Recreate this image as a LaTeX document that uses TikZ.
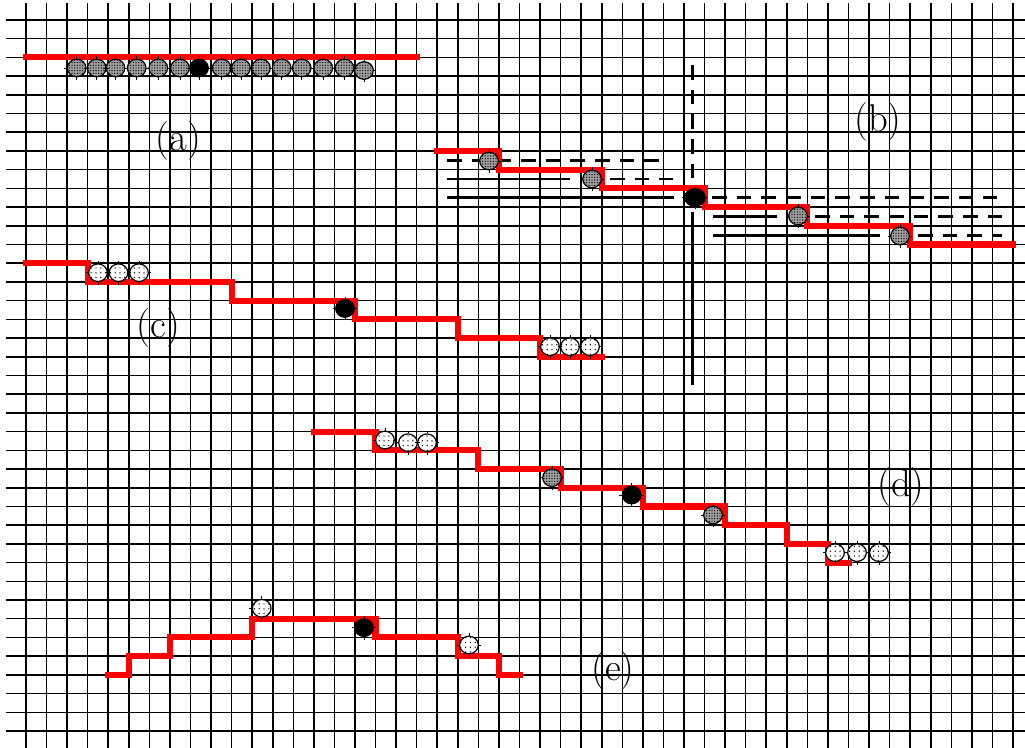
\documentclass[tikz,border=0pt]{standalone}
\usetikzlibrary{shapes.geometric,patterns.meta}
\begin{document}
\begin{tikzpicture}[x=0.75pt,y=-0.75pt,
  gridline/.style={line width=1.15pt, black},
  redstair/.style={line width=4.6pt, red, line cap=rect, line join=miter},
  rail/.style={line width=2pt, black},
  raildash/.style={rail, dash pattern=on 11pt off 7.5pt},
  ball/.style={ellipse, draw=black, line width=0.9pt, minimum width=14pt, minimum height=13.2pt, inner sep=0pt},
  grayball/.style={ball, fill=gray!75, postaction={pattern={Dots[distance=2pt,radius=0.5pt]}, pattern color=black}},
  lightball/.style={ball, fill=white, postaction={pattern={Dots[distance=3.6pt,radius=0.55pt]}, pattern color=black}},
  blackball/.style={ball, fill=black},
  tick/.style={line width=0.6pt, black},
  lbl/.style={font=\fontsize{29}{33}\selectfont, inner sep=0pt}
]
\useasboundingbox (0,0) rectangle (1025,748);
\fill[white] (0,0) rectangle (1025,748);

% grid in grid units
\begin{scope}[shift={(26,20)}, x=15.421875pt, y=-14.0325pt]
  \foreach \i in {0,...,48} \draw[gridline] (\i,-0.909) -- (\i,38.909);
  \foreach \j in {0,...,38} \draw[gridline] (-0.973,\j) -- (48.584,\j);
\end{scope}

% rails of (b)
\draw[raildash] (447,160.3) -- (668,160.3);
\draw[rail] (447,179) -- (570,179);
\draw[raildash] (610,179) -- (673,179);
\draw[rail] (447,197.7) -- (674,197.7);
\draw[raildash] (712,197.7) -- (997,197.7);
\draw[rail] (713,216.5) -- (777,216.5);
\draw[raildash] (815,216.5) -- (1002,216.5);
\draw[rail] (713,235.2) -- (880,235.2);
\draw[raildash] (918,235.2) -- (1002,235.2);
\draw[raildash] (692.5,65) -- (692.5,186);
\draw[rail] (692.5,212) -- (692.5,385);

\begin{scope}[shift={(26,20)}, x=15.421875pt, y=-14.0325pt]
  % (a)
  \draw[redstair] (0,2) -- (19,2);
  % (b)
  \draw[redstair] (20,7) -- (23,7) -- (23,8) -- (28,8) -- (28,9) -- (33,9) -- (33,10)
     -- (38,10) -- (38,11) -- (43,11) -- (43,12) -- (48,12);
  % (c)
  \draw[redstair] (0,13) -- (3,13) -- (3,14) -- (10,14) -- (10,15) -- (16,15) -- (16,16)
     -- (21,16) -- (21,17) -- (25,17) -- (25,18) -- (28,18);
  % (d)
  \draw[redstair] (14,22) -- (17,22) -- (17,23) -- (22,23) -- (22,24) -- (26,24) -- (26,25)
     -- (30,25) -- (30,26) -- (34,26) -- (34,27) -- (37,27) -- (37,28) -- (39,28) -- (39,29) -- (40,29);
  % (e)
  \draw[redstair] (4,35) -- (5,35) -- (5,34) -- (7,34) -- (7,33) -- (11,33) -- (11,32)
     -- (17,32) -- (17,33) -- (21,33) -- (21,34) -- (23,34) -- (23,35) -- (24,35);
\end{scope}

% balls (a)
\node[grayball] (a1) at (76.7,68) {};
\node[grayball] (a2) at (96.7,68) {};
\node[grayball] (a3) at (115.5,68) {};
\node[grayball] (a4) at (136.7,68) {};
\node[grayball] (a5) at (158.3,68) {};
\node[grayball] (a6) at (180,68) {};
\node[blackball] (a7) at (199,68) {};
\node[grayball] (a8) at (221.7,68) {};
\node[grayball] (a9) at (241,68) {};
\node[grayball] (a10) at (261,68) {};
\node[grayball] (a11) at (281.7,68) {};
\node[grayball] (a12) at (301.7,68) {};
\node[grayball] (a13) at (323.3,68) {};
\node[grayball] (a14) at (344.5,68) {};
\node[grayball] (a15) at (364,70.5) {};
% balls (b)
\node[grayball] (b1) at (489,161) {};
\node[grayball] (b2) at (592,179) {};
\node[blackball, minimum width=15.5pt] (b3) at (695,197.5) {};
\node[grayball] (b4) at (798,216) {};
\node[grayball] (b5) at (900,236) {};
% balls (c)
\node[lightball] (c1) at (98,272.7) {};
\node[lightball] (c2) at (118.5,272.7) {};
\node[lightball] (c3) at (139,272.7) {};
\node[blackball] (c4) at (345,308.5) {};
\node[lightball] (c5) at (550,346.7) {};
\node[lightball] (c6) at (570,346.7) {};
\node[lightball] (c7) at (590,346.7) {};
% balls (d)
\node[lightball] (d1) at (385,440) {};
\node[lightball] (d2) at (408,442.7) {};
\node[lightball] (d3) at (427,442.7) {};
\node[grayball] (d4) at (552,477.7) {};
\node[blackball] (d5) at (631.7,495) {};
\node[grayball] (d6) at (713,515) {};
\node[lightball] (d7) at (835,552.7) {};
\node[lightball] (d8) at (857,552.7) {};
\node[lightball] (d9) at (879,552.7) {};
% balls (e)
\node[lightball] (e1) at (261.7,608.3) {};
\node[blackball] (e2) at (364,627.7) {};
\node[lightball] (e3) at (469,645) {};

\foreach \n in {a1,a2,a3,a4,a5,a6,a7,a8,a9,a10,a11,a12,a13,a14,a15,b1,b2,b3,b4,b5,
  c1,c2,c3,c4,c5,c6,c7,d1,d2,d3,d4,d5,d6,d7,d8,d9,e1,e2,e3}
  \draw[tick] (\n.north) -- ++(0,-2.5) (\n.south) -- ++(0,2.5)
              (\n.east) -- ++(2.5,0) (\n.west) -- ++(-2.5,0);

% labels
\node[lbl] (la) at (178.5,141) {(a)};
\node[lbl] (lb) at (878,121.7) {(b)};
\node[lbl] (lc) at (158.3,328) {(c)};
\node[lbl] (ld) at (901,486.7) {(d)};
\node[lbl] (le) at (613,670.8) {(e)};
\end{tikzpicture}
\end{document}
